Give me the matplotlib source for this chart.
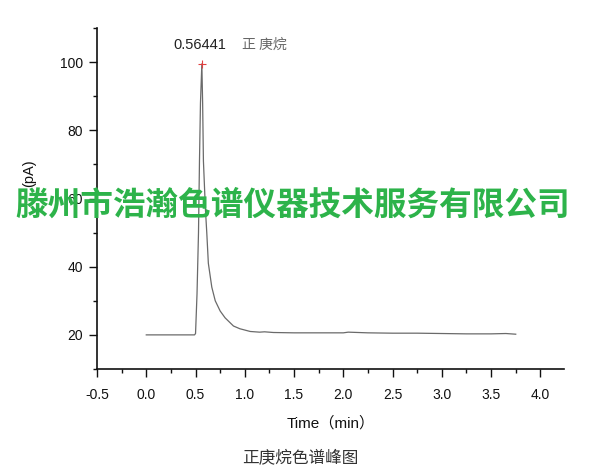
import numpy as np
import matplotlib
matplotlib.use('Agg')
import matplotlib.pyplot as plt
from matplotlib.ticker import MultipleLocator

plt.rcParams['font.family'] = ['Liberation Sans', 'Noto Sans CJK SC', 'DejaVu Sans']

# chromatogram trace (time in min, signal in pA)
time_min = [0.0, 0.30, 0.49, 0.50, 0.515, 0.53, 0.54, 0.55, 0.564, 0.572, 0.58,
            0.60, 0.614, 0.63, 0.665, 0.70, 0.75, 0.80, 0.885, 0.95, 1.055,
            1.15, 1.20, 1.29, 1.50, 1.75, 2.00, 2.05, 2.25, 2.50, 2.75,
            3.00, 3.25, 3.50, 3.65, 3.75]
signal_pa = [20.0, 20.0, 20.0, 20.4, 32.0, 50.0, 71.0, 88.0, 99.5, 88.0, 71.0,
             57.0, 50.0, 41.0, 34.0, 30.0, 27.0, 25.0, 22.6, 21.8, 21.0,
             20.8, 20.9, 20.7, 20.6, 20.6, 20.6, 20.8, 20.6, 20.5, 20.5,
             20.4, 20.3, 20.3, 20.4, 20.2]

peak_time = 0.56441
peak_value = 99.5
peak_name = "正 庚烷"

x_ticks = [-0.5, 0.0, 0.5, 1.0, 1.5, 2.0, 2.5, 3.0, 3.5, 4.0]
y_ticks = [20, 40, 60, 80, 100]

fig = plt.figure(figsize=(6, 4.75), dpi=100)
ax = fig.add_axes([0.1617, 0.2232, 0.7783, 0.7178])

ax.plot(time_min, signal_pa, color='#6a6a6a', linewidth=0.9)
ax.plot([peak_time], [peak_value], marker='+', color='#e04040',
        markersize=6, markeredgewidth=0.8)

ax.text(peak_time - 0.29, peak_value + 3.6, f"{peak_time:.5f}",
        fontsize=10.5, color='#222222', va='bottom', ha='left')
ax.text(peak_time + 0.41, peak_value + 3.6, peak_name,
        fontsize=10, color='#666666', va='bottom', ha='left',
        family=['Noto Sans CJK SC'])

ax.set_xlim(-0.5, 4.24)
ax.set_ylim(10, 110)
ax.set_xticks(x_ticks)
ax.set_xticklabels([f"{v:.1f}" for v in x_ticks])
ax.set_yticks(y_ticks)
ax.xaxis.set_minor_locator(MultipleLocator(0.25))
ax.yaxis.set_minor_locator(MultipleLocator(10))

for side in ['top', 'right']:
    ax.spines[side].set_visible(False)
for side in ['left', 'bottom']:
    ax.spines[side].set_linewidth(1.2)
    ax.spines[side].set_color('#111111')

ax.tick_params(axis='both', which='major', direction='out', length=6,
               width=1.0, labelsize=10, colors='#111111', pad=4)
ax.tick_params(axis='both', which='minor', direction='out', length=3, width=1.0,
               colors='#111111')
ax.tick_params(axis='x', pad=8)

ax.set_xlabel("Time（min）", fontsize=11, color='#111111',
              family=['Liberation Sans', 'Noto Sans CJK SC'], labelpad=10)
ax.set_ylabel("(pA)", fontsize=10.5, color='#111111')
ax.yaxis.set_label_coords(-0.13, 0.575)

# caption below the plot
fig.text(0.5, 0.035, "正庚烷色谱峰图", ha='center', va='center', fontsize=12,
         color='#333333', family=['Noto Sans CJK SC'], fontweight='light')

# green watermark across the plot
fig.text(0.487, 0.568, "滕州市浩瀚色谱仪器技术服务有限公司", ha='center', va='center',
         fontsize=23.5, color='#2db34a', fontweight='bold',
         family=['Noto Sans CJK SC'], zorder=10)

fig.savefig("out.png", dpi=100)
